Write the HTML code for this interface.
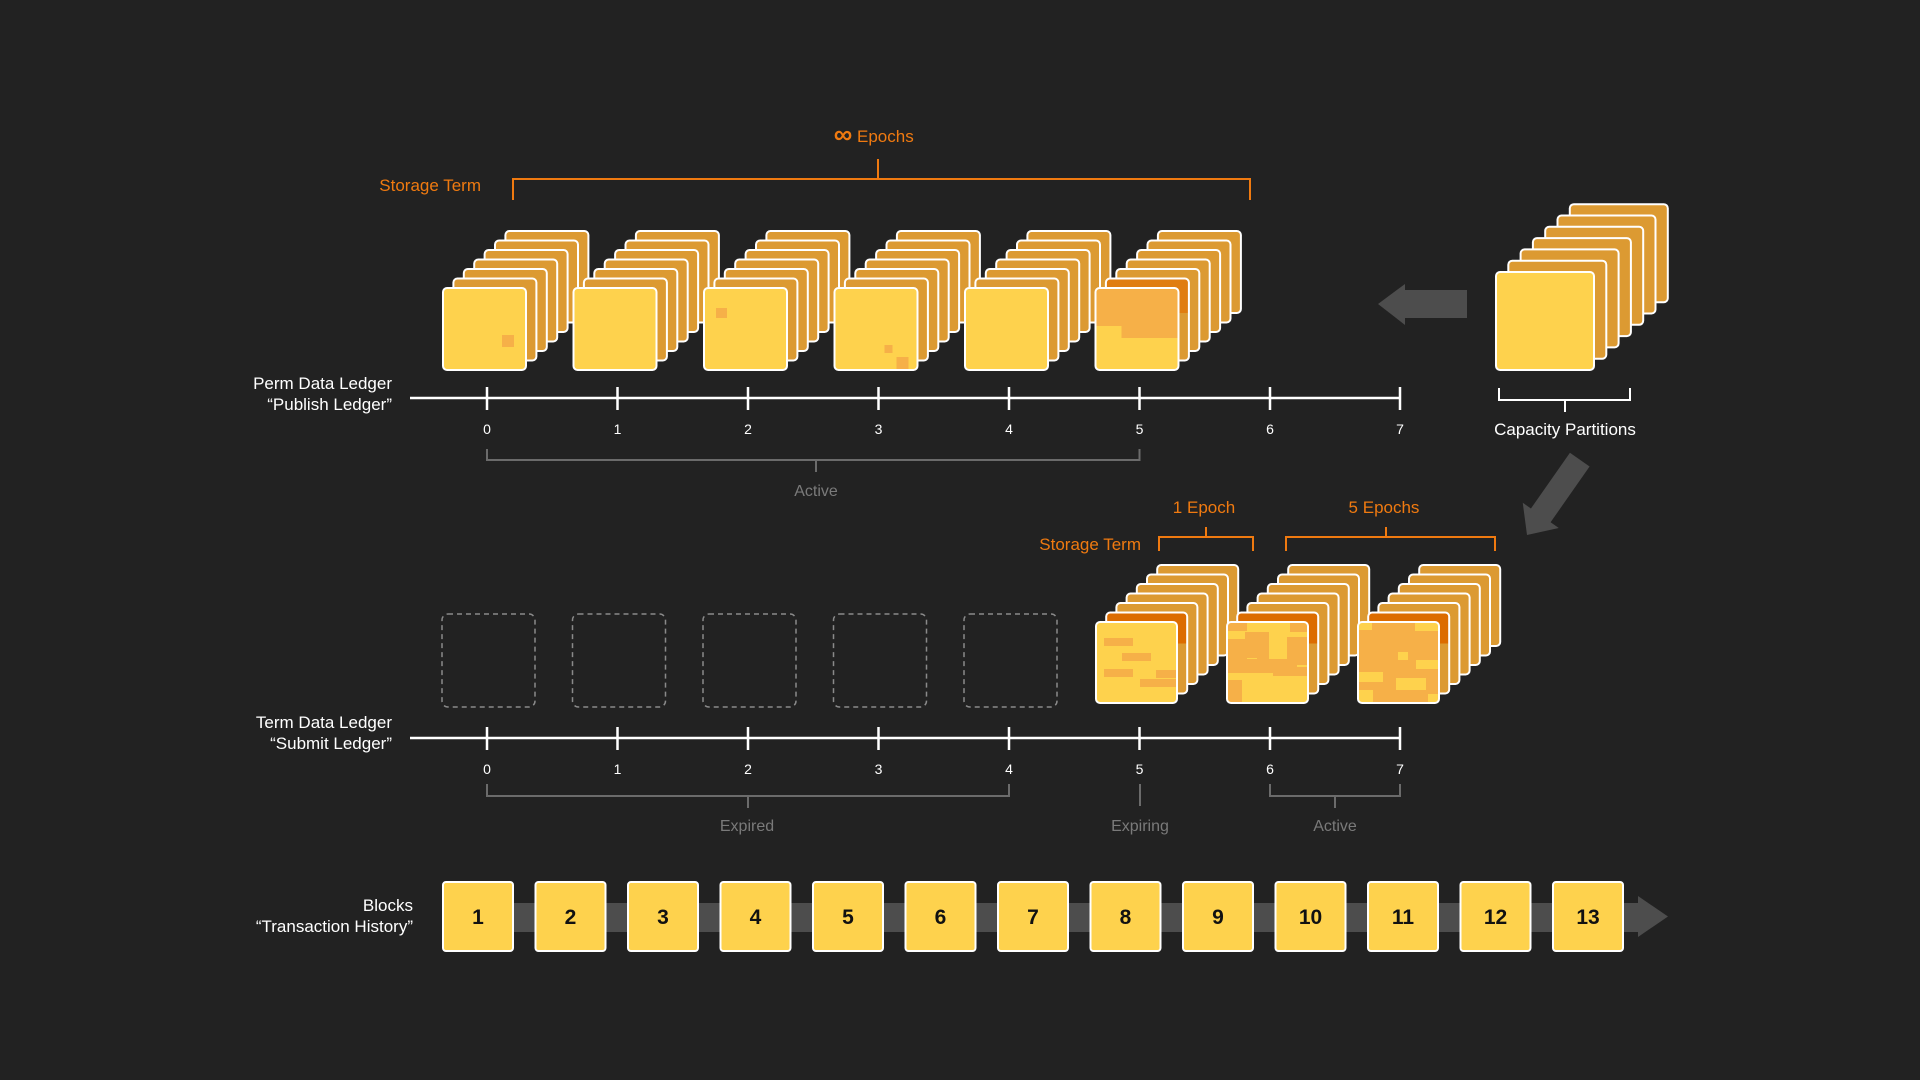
<!DOCTYPE html>
<html><head><meta charset="utf-8">
<style>
html,body{margin:0;padding:0;background:#222222;}
svg{display:block;}
text{font-family:"Liberation Sans",sans-serif;}
</style></head>
<body>
<svg id="s" width="1920" height="1080" viewBox="0 0 1920 1080" xmlns="http://www.w3.org/2000/svg">
<defs>
<linearGradient id="gdo" x1="0" y1="0" x2="0" y2="1">
<stop offset="0" stop-color="#dc6c00"/><stop offset="0.38" stop-color="#dc6c00"/><stop offset="0.38" stop-color="#dc9a32"/><stop offset="1" stop-color="#dc9a32"/>
</linearGradient>
<linearGradient id="gdo2" x1="0" y1="0" x2="0" y2="1">
<stop offset="0" stop-color="#e07d10"/><stop offset="0.42" stop-color="#e07d10"/><stop offset="0.42" stop-color="#dc9a32"/><stop offset="1" stop-color="#dc9a32"/>
</linearGradient>
</defs>
<rect width="1920" height="1080" fill="#222222"/>
<g id="cards"></g>

<g stroke="#f07a10" stroke-width="2" fill="none">
<path d="M513 200 V179 H1250 V200 M878 179 V159"/>
<path d="M1159 551 V537 H1253 V551 M1206 537 V527"/>
<path d="M1286 551 V537 H1495 V551 M1386 537 V527"/>
</g>
<g fill="#f07a10" font-size="17">
<text x="843" y="143" font-size="26" font-weight="bold" text-anchor="middle">∞</text>
<text x="857" y="142">Epochs</text>
<text x="481" y="191" text-anchor="end">Storage Term</text>
<text x="1141" y="550" text-anchor="end">Storage Term</text>
<text x="1204" y="513" text-anchor="middle">1 Epoch</text>
<text x="1384" y="513" text-anchor="middle">5 Epochs</text>
</g>

<g stroke="#ffffff" stroke-width="2.5" fill="none">
<path d="M410 398 H1400"/>
<path d="M410 738 H1400"/>
<path d="M487 387V410 M617.5 387V410 M748 387V410 M878.5 387V410 M1009 387V410 M1139.5 387V410 M1270 387V410 M1400 387V410"/>
<path d="M487 727V750 M617.5 727V750 M748 727V750 M878.5 727V750 M1009 727V750 M1139.5 727V750 M1270 727V750 M1400 727V750"/>
</g>
<g fill="#ffffff" font-size="14" text-anchor="middle">
<text x="487" y="434">0</text><text x="617.5" y="434">1</text><text x="748" y="434">2</text><text x="878.5" y="434">3</text><text x="1009" y="434">4</text><text x="1139.5" y="434">5</text><text x="1270" y="434">6</text><text x="1400" y="434">7</text>
<text x="487" y="774">0</text><text x="617.5" y="774">1</text><text x="748" y="774">2</text><text x="878.5" y="774">3</text><text x="1009" y="774">4</text><text x="1139.5" y="774">5</text><text x="1270" y="774">6</text><text x="1400" y="774">7</text>
</g>

<g stroke="#6b6b6b" stroke-width="2" fill="none">
<path d="M487 449 V460 H1139.5 V449 M816 460 V472"/>
<path d="M487 784 V796 H1009 V784 M748 796 V808"/>
<path d="M1140 784 V806"/>
<path d="M1270 784 V796 H1400 V784 M1335 796 V808"/>
</g>
<g fill="#7a7a7a" font-size="16" text-anchor="middle">
<text x="816" y="496">Active</text>
<text x="747" y="831">Expired</text>
<text x="1140" y="831">Expiring</text>
<text x="1335" y="831">Active</text>
</g>

<g stroke="#ffffff" stroke-width="2" fill="none">
<path d="M1499 388 V400 H1630 V388 M1565 400 V412"/>
</g>
<text x="1565" y="435" fill="#ffffff" font-size="17" text-anchor="middle">Capacity Partitions</text>

<polygon points="1378,304 1405,284 1405,290 1467,290 1467,318 1405,318 1405,325" fill="#4d4d4d"/>
<g transform="translate(1527,535) rotate(-55)">
<polygon points="0,0 24,-22 24,-12 92,-12 92,12 24,12 24,22" fill="#4d4d4d"/>
</g>

<g fill="#ffffff" font-size="17" text-anchor="end">
<text x="392" y="389">Perm Data Ledger</text>
<text x="392" y="410">“Publish Ledger”</text>
<text x="392" y="728">Term Data Ledger</text>
<text x="392" y="749">“Submit Ledger”</text>
<text x="413" y="911">Blocks</text>
<text x="413" y="932">“Transaction History”</text>
</g>

<rect x="500" y="903" width="1140" height="29" fill="#4d4d4d"/>
<polygon points="1638,896 1668,916.5 1638,937" fill="#4d4d4d"/>
<g id="blocks"></g>
<g font-size="21" font-weight="bold" fill="#111" text-anchor="middle">
<text x="478" y="924">1</text><text x="570.5" y="924">2</text><text x="663" y="924">3</text><text x="755.5" y="924">4</text><text x="848" y="924">5</text><text x="940.5" y="924">6</text><text x="1033" y="924">7</text><text x="1125.5" y="924">8</text><text x="1218" y="924">9</text><text x="1310.5" y="924">10</text><text x="1403" y="924">11</text><text x="1495.5" y="924">12</text><text x="1588" y="924">13</text>
</g>
</svg>
<script>
var NS="http://www.w3.org/2000/svg";
var cards=document.getElementById("cards");
function r(p,x,y,w,h,fill,stroke,extra){var e=document.createElementNS(NS,"rect");e.setAttribute("x",x);e.setAttribute("y",y);e.setAttribute("width",w);e.setAttribute("height",h);e.setAttribute("fill",fill);if(stroke){e.setAttribute("stroke",stroke);e.setAttribute("stroke-width",2);}if(extra)for(var k in extra)e.setAttribute(k,extra[k]);p.appendChild(e);return e;}
function g(p){var e=document.createElementNS(NS,"g");p.appendChild(e);return e;}
var BACK="#dc9a32",Y="#fed24d",O="#f6b048";
function stack(x,y,w,h,dx,dy,k1,patches){
  for(var k=6;k>=1;k--){
    var fill=(k==1&&k1)?k1:BACK;
    r(cards,x+dx*k,y-dy*k,w,h,fill,"#fff",{rx:4});
  }
  var cg=g(cards);
  var id="c"+Math.round(x)+"_"+Math.round(y);
  var cp=document.createElementNS(NS,"clipPath");cp.setAttribute("id",id);
  r(cp,x,y,w,h,"#000",null,{rx:4});cards.appendChild(cp);
  var inner=g(cg);inner.setAttribute("clip-path","url(#"+id+")");
  r(inner,x,y,w,h,Y);
  (patches||[]).forEach(function(p){r(inner,x+p[0],y+p[1],p[2],p[3],p[4]||O);});
  r(cg,x,y,w,h,"none","#fff",{rx:4});
}
var tx=[443,573.5,704,834.5,965,1095.5];
var tp=[[[59,47,12,12]],[],[[12,20,11,10]],[[50,57,8,8],[62,69,12,12]],[],[[0,0,83,38],[26,38,57,12]]];
for(var i=0;i<6;i++) stack(tx[i],288,83,82,10.4,9.5,i==5?"url(#gdo2)":null,tp[i]);
var bA=[[8,16,29,8],[26,31,29,8],[8,47,29,8],[60,48,21,8],[44,57,37,8]];
var bB=[[0,0,20,9],[0,17,20,20],[18,10,24,26],[30,28,12,14],[0,37,70,14],[60,15,21,28],[63,0,18,10],[46,45,35,9],[0,58,15,23]];
var bC=[[0,0,81,81],[40,30,10,8,Y],[0,0,14,8,Y],[57,0,24,9,Y],[58,38,23,9,Y],[0,50,25,10,Y],[38,56,30,12,Y],[0,68,15,13,Y],[70,72,11,9,Y]];
stack(1096,622,81,81,10.2,9.5,"url(#gdo)",bA);
stack(1227,622,81,81,10.2,9.5,"url(#gdo)",bB);
stack(1358,622,81,81,10.2,9.5,"url(#gdo)",bC);
stack(1496,272,98,98,12.3,11.3,null,[]);
for(var i=0;i<5;i++){r(cards,442+130.5*i,614,93,93,"none","#8a8a8a",{rx:6,"stroke-dasharray":"5 4","stroke-width":1.5});}
var bl=document.getElementById("blocks");
for(var i=0;i<13;i++){r(bl,443+92.5*i,882,70,69,Y,"#fff",{rx:3});}
</script>
</body></html>
